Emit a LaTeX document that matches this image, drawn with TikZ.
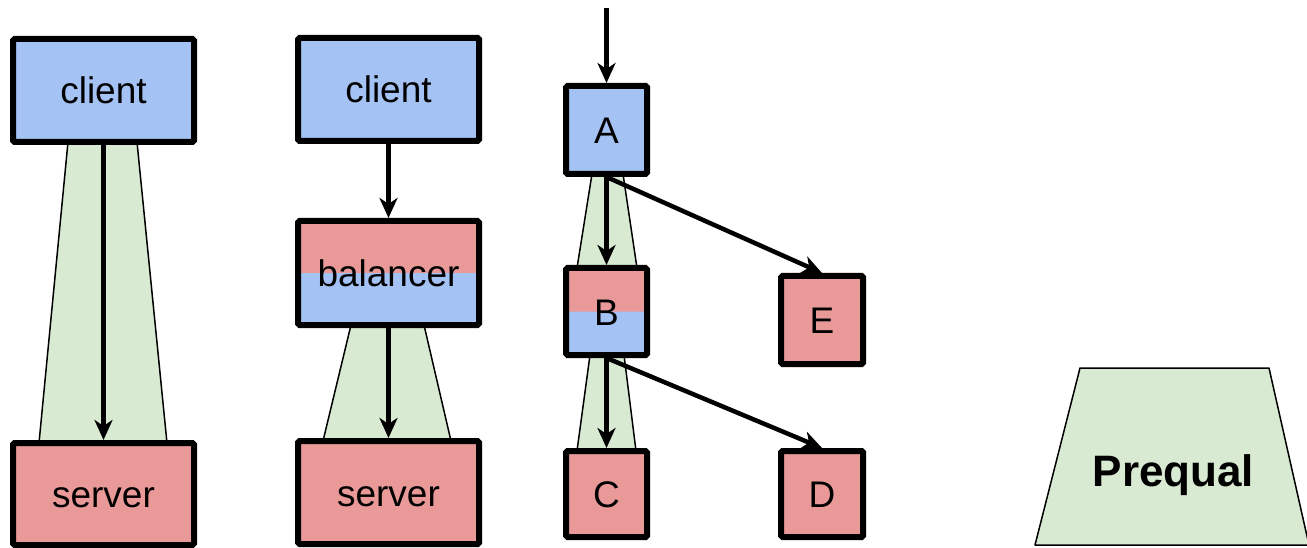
\documentclass[tikz,border=0pt]{standalone}
\usepackage{fontspec}
\setmainfont{Liberation Sans}
\usetikzlibrary{arrows.meta}
\definecolor{boxblue}{HTML}{A4C2F4}
\definecolor{boxred}{HTML}{EA9999}
\definecolor{funnel}{HTML}{D9EAD3}
\tikzset{
  box/.style={draw=black, line width=6pt, rounded corners=1.5pt, inner sep=0pt,
    font=\fontsize{37}{44}\selectfont, text height=32pt, text depth=5pt},
  bluebox/.style={box, fill=boxblue},
  redbox/.style={box, fill=boxred},
  splitbox/.style={box, fill=boxblue,
    path picture={\fill[boxred] (path picture bounding box.north west)
      rectangle (path picture bounding box.east);}},
  flow/.style={draw=black, line width=4.5pt,
    -{Stealth[length=20pt, width=18pt, inset=6pt]}},
  cone/.style={fill=funnel, draw=black, line width=1.5pt, line join=round},
}
\begin{document}
\begin{tikzpicture}[x=1pt, y=-1pt]
\useasboundingbox (0,0) rectangle (1307,548);

% funnels behind the boxes
\path[cone] (68,142) -- (137,142) -- (167,443) -- (39,443) -- cycle;
\path[cone] (351,325) -- (424,325) -- (451,441) -- (323,441) -- cycle;
\path[cone] (592,174) -- (623,174) -- (637,268) -- (577,268) -- cycle;
\path[cone] (590,355) -- (624,355) -- (636,451) -- (577,451) -- cycle;

% direct client/server
\node[bluebox, minimum width=181pt, minimum height=103pt] (c1) at (103.5,90.5) {client};
\node[redbox, minimum width=181pt, minimum height=102pt] (s1) at (103.5,494) {server};

% client/balancer/server
\node[bluebox, minimum width=181pt, minimum height=103pt] (c2) at (388.5,89.5) {client};
\node[splitbox, minimum width=181pt, minimum height=104pt] (lb) at (388.5,273) {balancer};
\node[redbox, minimum width=181pt, minimum height=103pt] (s2) at (388.5,492.5) {server};

% call tree
\coordinate (in) at (606.5,8);
\node[bluebox, minimum width=81pt, minimum height=88pt] (A) at (606.5,130) {A};
\node[splitbox, minimum width=81pt, minimum height=87pt] (B) at (606.5,311.5) {B};
\node[redbox, minimum width=81pt, minimum height=86pt] (C) at (606.5,494) {C};
\node[redbox, minimum width=82pt, minimum height=88pt] (E) at (822,320) {E};
\node[redbox, minimum width=82pt, minimum height=86pt] (D) at (822,494) {D};

% Prequal label
\path[cone] (1080,368) -- (1269,368) -- (1309,545) -- (1035,545) -- cycle;
\node[font=\fontsize{44}{52}\selectfont\bfseries, anchor=base, inner sep=0pt] (pq) at (1173.5,486) {Prequal};

% connectors
\draw[flow] (c1.south) -- (s1.north);
\draw[flow] (c2.south) -- (lb.north);
\draw[flow] (lb.south) -- (s2.north);
\draw[flow] (in) -- (A.north);
\draw[flow] (A.south) -- (B.north);
\draw[flow] (A.south) -- (E.north);
\draw[flow] (B.south) -- (C.north);
\draw[flow] (B.south) -- (D.north);
\end{tikzpicture}
\end{document}
